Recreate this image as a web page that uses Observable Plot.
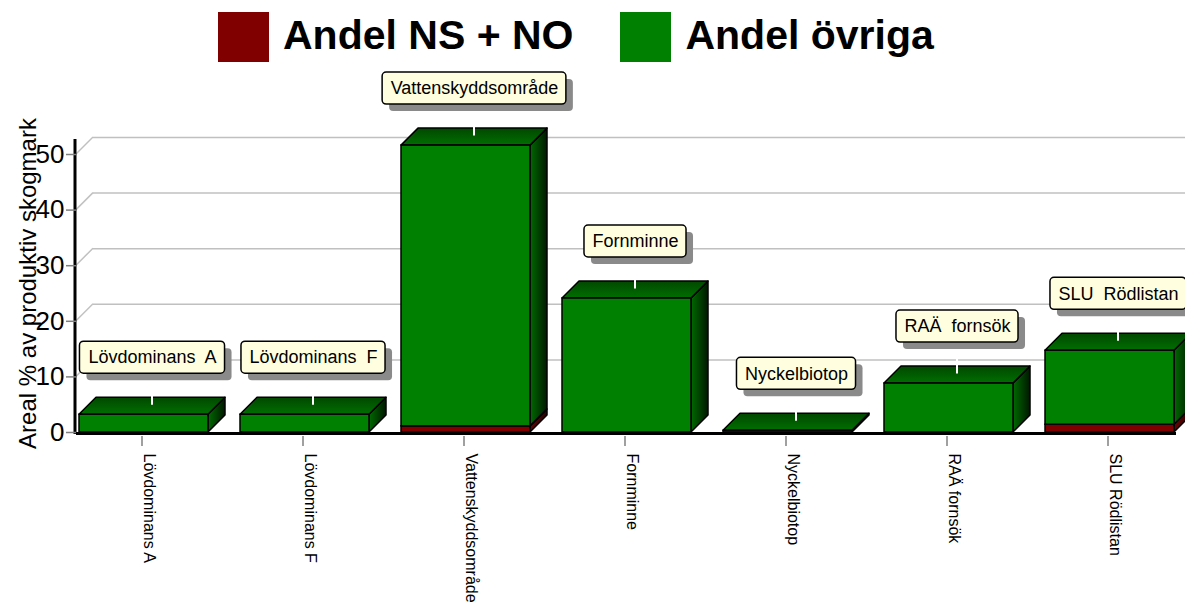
<!DOCTYPE html>
<html>
<head>
<meta charset="utf-8">
<script src="https://cdn.jsdelivr.net/npm/d3@7"></script>
<script src="https://cdn.jsdelivr.net/npm/@observablehq/plot@0.6"></script>
<style>
  body { margin: 0; background: #fff; width: 1185px; height: 605px; overflow: hidden; font-family: "Liberation Sans", Arial, sans-serif; }
  #legend { display: flex; height: 70px; padding-left: 218px; box-sizing: border-box; align-items: flex-start; }
  .item { display: flex; align-items: flex-start; margin-right: 47px; }
  .sw { display: block; width: 51px; height: 50px; margin-top: 12px; margin-right: 14px; }
  .lt { font-weight: bold; font-size: 41px; line-height: 41px; margin-top: 15px; color: #000; white-space: pre; }
  svg text { white-space: pre; }
</style>
</head>
<body>
<div id="legend"></div>
<div id="chart"></div>
<script>
// ---- data ----
const categories = ["Lövdominans A", "Lövdominans F", "Vattenskyddsområde", "Fornminne", "Nyckelbiotop", "RAÄ fornsök", "SLU Rödlistan"];
const calloutLabels = ["Lövdominans  A", "Lövdominans  F", "Vattenskyddsområde", "Fornminne", "Nyckelbiotop", "RAÄ  fornsök", "SLU  Rödlistan"];
const andelNSNO = [0, 0, 1.1, 0, 0, 0, 1.4];
const andelOvriga = [3.2, 3.2, 50.5, 24.1, 0.3, 8.8, 13.3];
const seriesNames = ["Andel NS + NO", "Andel övriga"];
const seriesColors = ["#800000", "#008000"];
const yTicks = [0, 10, 20, 30, 40, 50];
const yTitle = "Areal % av produktiv skogmark";

// ---- derived tables ----
const seriesValues = [andelNSNO, andelOvriga];
const rows = [];
categories.forEach((c, i) => seriesNames.forEach((s, k) => rows.push({cat: c, series: s, value: seriesValues[k][i]})));
const totals = categories.map((c, i) => ({cat: c, total: andelNSNO[i] + andelOvriga[i], label: calloutLabels[i]}));

// ---- style constants ----
const D = 17;          // 3D depth in px
const GAP = 24;        // gap callout -> bar back edge
const BOX_H = 32;
const CALLOUT_FONT = "18px 'Liberation Sans', Arial, sans-serif";
const SVGNS = "http://www.w3.org/2000/svg";

// ---- legend ----
const legend = d3.select("#legend");
seriesNames.forEach((name, i) => {
  const it = legend.append("div").attr("class", "item");
  it.append("span").attr("class", "sw").style("background", seriesColors[i]);
  it.append("span").attr("class", "lt").text(name);
});

function bw(sx) { return typeof sx.bandwidth === "function" ? sx.bandwidth() : sx.bandwidth; }

// diagonal parts of the back-wall gridlines
function gridDiagonals(index, scales, values, dims) {
  const g = d3.select(document.createElementNS(SVGNS, "g"));
  const x0 = dims.marginLeft;
  yTicks.filter(t => t > 0).forEach(t => {
    const y = scales.y(t);
    g.append("line").attr("x1", x0).attr("y1", y).attr("x2", x0 + D).attr("y2", y - D)
      .attr("stroke", "#c0c0c0").attr("stroke-width", 1.5);
  });
  return g.node();
}
// y axis line
function axisLine(index, scales, values, dims) {
  const g = d3.select(document.createElementNS(SVGNS, "g"));
  const x0 = dims.marginLeft - 1;
  g.append("line").attr("x1", x0).attr("x2", x0)
    .attr("y1", scales.y(yTicks[yTicks.length - 1]) - D + 2).attr("y2", scales.y(0) + 2)
    .attr("stroke", "black").attr("stroke-width", 3);
  return g.node();
}

// side and top faces of the 3D bars
function faces3d(index, scales, values, dims) {
  const g = d3.select(document.createElementNS(SVGNS, "g"));
  const defs = g.append("defs");
  const grad = (id, vertical, c1, c2) => {
    const lg = defs.append("linearGradient").attr("id", id)
      .attr("x1", 0).attr("y1", 0).attr("x2", vertical ? 0 : 1).attr("y2", vertical ? 1 : 0);
    lg.append("stop").attr("offset", "0%").attr("stop-color", c1);
    lg.append("stop").attr("offset", "100%").attr("stop-color", c2);
  };
  grad("side0", false, "#700000", "#2a0000");
  grad("side1", false, "#006a00", "#001800");
  grad("top0", true, "#500000", "#780000");
  grad("top1", true, "#004800", "#007000");
  const sx = scales.x, sy = scales.y, w = bw(sx);
  categories.forEach((c, i) => {
    const xa = sx(c), xb = xa + w;
    let base = 0, topK = 1;
    seriesValues.forEach((arr, k) => {
      const v = arr[i];
      if (!(v > 0)) return;
      const ya = sy(base), yb = sy(base + v);
      g.append("path")
        .attr("d", `M${xb},${ya}L${xb + D},${ya - D}L${xb + D},${yb - D}L${xb},${yb}Z`)
        .attr("fill", `url(#side${k})`).attr("stroke", "black").attr("stroke-width", 1.5).attr("stroke-linejoin", "round");
      base += v; topK = k;
    });
    const yt = sy(base);
    g.append("path")
      .attr("d", `M${xa},${yt}L${xa + D},${yt - D}L${xb + D},${yt - D}L${xb},${yt}Z`)
      .attr("fill", `url(#top${topK})`).attr("stroke", "black").attr("stroke-width", 1.5).attr("stroke-linejoin", "round");
  });
  return g.node();
}

// callout boxes, shadows and leader lines
function callouts(index, scales, values, dims) {
  const g = d3.select(document.createElementNS(SVGNS, "g"));
  const ctx = document.createElement("canvas").getContext("2d");
  ctx.font = CALLOUT_FONT;
  const sx = scales.x, sy = scales.y, w = bw(sx);
  totals.forEach(d => {
    const cx = sx(d.cat) + w / 2 + D / 2;
    const yt = sy(d.total);
    const bottom = yt - D - GAP;
    const tw = ctx.measureText(d.label).width + 16;
    g.append("line").attr("x1", cx).attr("x2", cx).attr("y1", bottom).attr("y2", yt - D / 2 - 1)
      .attr("stroke", "white").attr("stroke-width", 2);
    g.append("rect").attr("x", cx - tw / 2 + 7).attr("y", bottom - BOX_H + 7).attr("width", tw).attr("height", BOX_H)
      .attr("rx", 4).attr("fill", "#8a8a8a");
    g.append("rect").attr("x", cx - tw / 2).attr("y", bottom - BOX_H).attr("width", tw).attr("height", BOX_H)
      .attr("rx", 4).attr("fill", "#ffffe0").attr("stroke", "black").attr("stroke-width", 1.5);
  });
  return g.node();
}

const chart = Plot.plot({
  width: 1185,
  height: 535,
  marginLeft: 76,
  marginRight: 9,
  marginTop: 84,
  marginBottom: 173,
  style: {fontFamily: "'Liberation Sans', Arial, sans-serif", background: "white", overflow: "hidden"},
  x: {domain: categories, range: [76, 1176], paddingInner: 0.2, paddingOuter: 0},
  y: {domain: [0, 50]},
  color: {domain: seriesNames, range: seriesColors},
  marks: [
    Plot.ruleY(yTicks.filter(t => t > 0), {stroke: "#c0c0c0", strokeWidth: 1.5, dx: D, dy: -D}),
    gridDiagonals,
    Plot.ruleY([0], {stroke: "black", strokeWidth: 3, dy: 1}),
    faces3d,
    Plot.barY(rows, {x: "cat", y: "value", fill: "series", stroke: "black", strokeWidth: 1.5, filter: d => d.value > 0}),
    callouts,
    Plot.text(totals, {x: "cat", y: "total", text: "label", dx: D / 2, dy: -(D + GAP + BOX_H / 2), fontSize: 18, fill: "black"}),
    axisLine,
    Plot.axisY({ticks: yTicks, tickSize: 10, tickPadding: 2, fontSize: 26, stroke: "#808080", strokeWidth: 1.5, fill: "black", label: null}),
    Plot.axisX({tickSize: 10, tickFormat: () => "", stroke: "#808080", strokeWidth: 1.5, dy: 4, dx: -2, label: null}),
    Plot.axisX({tickSize: 0, tickPadding: 21, tickRotate: 90, fontSize: 16, fill: "black", dx: 5, label: null}),
    Plot.text([yTitle], {frameAnchor: "left", textAnchor: "middle", rotate: -90, dx: -48, dy: -10, fontSize: 24, fill: "black"})
  ]
});
document.getElementById("chart").appendChild(chart);
</script>
</body>
</html>
